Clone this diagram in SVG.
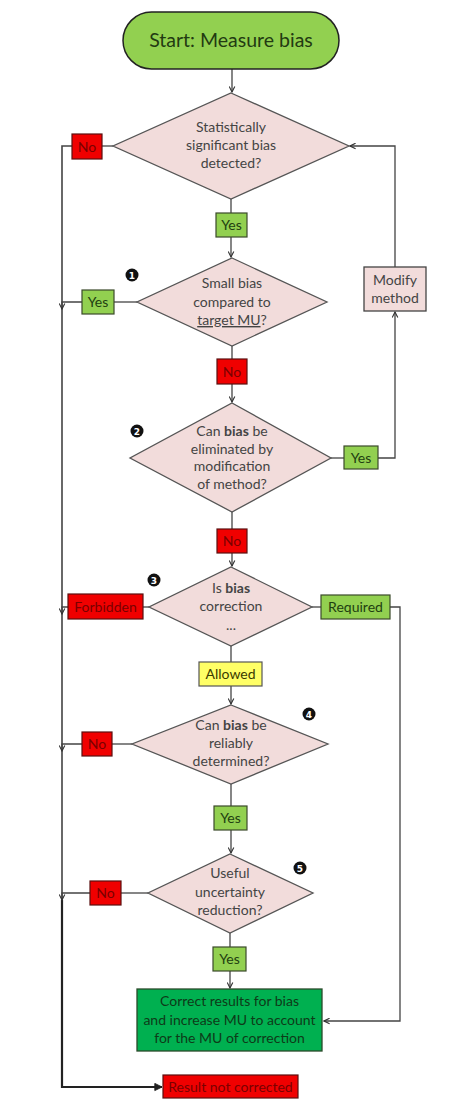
<svg xmlns="http://www.w3.org/2000/svg" width="449" height="1116" viewBox="0 0 449 1116">
<defs>
<marker id="arr" viewBox="0 0 10 10" refX="9" refY="5" markerWidth="7" markerHeight="7" orient="auto" markerUnits="userSpaceOnUse">
<path d="M1,1 L9,5 L1,9" fill="none" stroke="#333" stroke-width="1.6"/>
</marker>
<marker id="arrB" viewBox="0 0 10 10" refX="9" refY="5" markerWidth="9" markerHeight="9" orient="auto" markerUnits="userSpaceOnUse">
<path d="M1,1 L9,5 L1,9 Z" fill="#222" stroke="#222" stroke-width="1"/>
</marker>
</defs>
<style>
.dia{fill:#f2dcdb;stroke:#555;stroke-width:1.3}
.t{font-family:Lato,"Open Sans","Liberation Sans",sans-serif;text-anchor:middle}
.dt{font-size:14px;fill:#444}
.red{fill:#f00000;stroke:#5a1010;stroke-width:1.2}
.rt{font-size:14px;fill:#7a0000}
.grn{fill:#92d050;stroke:#3b4a2a;stroke-width:1.2}
.gt{font-size:14px;fill:#1f4010}
.yel{fill:#ffff66;stroke:#555;stroke-width:1.2}
.c{fill:none;stroke:#444;stroke-width:1.3}
.bul{fill:#111}
.bt{font-family:"DejaVu Sans",sans-serif;font-size:9px;font-weight:bold;fill:#fff;text-anchor:middle}
</style>
<rect width="449" height="1116" fill="#fff"/>

<g id="connectors">
<path class="c" d="M232,69 V92" marker-end="url(#arr)"/>
<path class="c" d="M113,146 H102"/>
<path class="c" d="M72,146 H62 V900" style="stroke-width:1.6"/>
<path d="M62,900 V1087 H162" fill="none" stroke="#222" stroke-width="2.2" marker-end="url(#arrB)"/>
<path class="c" d="M231,199 V213"/>
<path class="c" d="M231,237 V257" marker-end="url(#arr)"/>
<path class="c" d="M137,302 H114"/>
<path class="c" d="M82,302 H62 V309" marker-end="url(#arr)"/>
<path class="c" d="M232,346 V359"/>
<path class="c" d="M232,384 V402" marker-end="url(#arr)"/>
<path class="c" d="M331,458 H344"/>
<path class="c" d="M378,458 H395 V312" marker-end="url(#arr)"/>
<path class="c" d="M395,267 V146 H350" marker-end="url(#arr)"/>
<path class="c" d="M232,512 V529"/>
<path class="c" d="M232,553 V566" marker-end="url(#arr)"/>
<path class="c" d="M149,607 H143"/>
<path class="c" d="M68,607 H62 V614" marker-end="url(#arr)"/>
<path class="c" d="M312,607 H321"/>
<path class="c" d="M390,607 H400 V1021 H324" marker-end="url(#arr)"/>
<path class="c" d="M231,646 V662"/>
<path class="c" d="M231,686 V704" marker-end="url(#arr)"/>
<path class="c" d="M132,744 H112"/>
<path class="c" d="M82,744 H62 V751" marker-end="url(#arr)"/>
<path class="c" d="M231,784 V806"/>
<path class="c" d="M231,830 V853" marker-end="url(#arr)"/>
<path class="c" d="M148,893 H121"/>
<path class="c" d="M90,893 H62 V900" marker-end="url(#arr)"/>
<path class="c" d="M230,933 V947"/>
<path class="c" d="M230,971 V988" marker-end="url(#arr)"/>
</g>

<g id="start">
<rect x="123" y="12" width="216" height="57" rx="28.5" fill="#92d050" stroke="#222" stroke-width="1.5"/>
<text class="t" x="231" y="47" font-size="19.5" fill="#233a12">Start: Measure bias</text>
</g>

<g id="d1">
<polygon class="dia" points="231,93 349,146 231,199 113,146"/>
<text class="t dt" x="231" y="132">Statistically</text>
<text class="t dt" x="231" y="150">significant bias</text>
<text class="t dt" x="231" y="168">detected?</text>
</g>
<g id="d1-no"><rect class="red" x="72" y="134" width="30" height="25"/><text class="t rt" x="87" y="151.5">No</text></g>
<g id="d1-yes"><rect class="grn" x="216" y="213" width="31" height="24"/><text class="t gt" x="231.5" y="230">Yes</text></g>

<g id="d2">
<polygon class="dia" points="232,258 327,302 232,346 137,302"/>
<text class="t dt" x="232" y="288">Small bias</text>
<text class="t dt" x="232" y="307">compared to</text>
<text class="t dt" x="232" y="325"><tspan text-decoration="underline">target MU</tspan>?</text>
</g>
<g id="b1"><circle class="bul" cx="132" cy="275" r="6.5"/><text class="bt" x="132" y="278.5">1</text></g>
<g id="d2-yes"><rect class="grn" x="82" y="290" width="32" height="24"/><text class="t gt" x="98" y="307">Yes</text></g>
<g id="d2-no"><rect class="red" x="217" y="359" width="30" height="25"/><text class="t rt" x="232" y="376.5">No</text></g>

<g id="modify">
<rect x="364" y="267" width="62" height="44" fill="#f2dcdb" stroke="#444" stroke-width="1.3"/>
<text class="t dt" x="395" y="285">Modify</text>
<text class="t dt" x="395" y="303">method</text>
</g>

<g id="d3">
<polygon class="dia" points="232,403 331,458 232,512 130,458"/>
<text class="t dt" x="232" y="436">Can <tspan font-weight="bold">bias</tspan> be</text>
<text class="t dt" x="232" y="454">eliminated by</text>
<text class="t dt" x="232" y="471">modification</text>
<text class="t dt" x="232" y="489">of method?</text>
</g>
<g id="b2"><circle class="bul" cx="137" cy="431" r="6.5"/><text class="bt" x="137" y="434.5">2</text></g>
<g id="d3-yes"><rect class="grn" x="344" y="446" width="34" height="23"/><text class="t gt" x="361" y="462.5">Yes</text></g>
<g id="d3-no"><rect class="red" x="217" y="529" width="30" height="24"/><text class="t rt" x="232" y="546">No</text></g>

<g id="d4">
<polygon class="dia" points="231,567 312,607 231,646 149,607"/>
<text class="t dt" x="231" y="593">Is <tspan font-weight="bold">bias</tspan></text>
<text class="t dt" x="231" y="611">correction</text>
<text class="t dt" x="231" y="630" font-size="10">...</text>
</g>
<g id="b3"><circle class="bul" cx="154" cy="580" r="6.5"/><text class="bt" x="154" y="583.5">3</text></g>
<g id="forbidden"><rect class="red" x="68" y="594" width="75" height="25"/><text class="t rt" x="105.5" y="611.5" font-size="14.5">Forbidden</text></g>
<g id="required"><rect class="grn" x="321" y="595" width="69" height="24"/><text class="t gt" x="355.5" y="612">Required</text></g>
<g id="allowed"><rect class="yel" x="199" y="662" width="63" height="24"/><text class="t" x="230.5" y="679" font-size="14" fill="#3a3a00">Allowed</text></g>

<g id="d5">
<polygon class="dia" points="231,705 328,744 231,784 132,744"/>
<text class="t dt" x="231" y="730">Can <tspan font-weight="bold">bias</tspan> be</text>
<text class="t dt" x="231" y="748">reliably</text>
<text class="t dt" x="231" y="766">determined?</text>
</g>
<g id="b4"><circle class="bul" cx="309" cy="714" r="6.5"/><text class="bt" x="309" y="717.5">4</text></g>
<g id="d5-no"><rect class="red" x="82" y="732" width="30" height="24"/><text class="t rt" x="97" y="749">No</text></g>
<g id="d5-yes"><rect class="grn" x="214" y="806" width="33" height="24"/><text class="t gt" x="230.5" y="823">Yes</text></g>

<g id="d6">
<polygon class="dia" points="230,854 313,893 230,933 148,893"/>
<text class="t dt" x="230" y="878">Useful</text>
<text class="t dt" x="230" y="897">uncertainty</text>
<text class="t dt" x="230" y="915">reduction?</text>
</g>
<g id="b5"><circle class="bul" cx="300" cy="868" r="6.5"/><text class="bt" x="300" y="871.5">5</text></g>
<g id="d6-no"><rect class="red" x="90" y="881" width="31" height="24"/><text class="t rt" x="105.5" y="898">No</text></g>
<g id="d6-yes"><rect class="grn" x="213" y="947" width="33" height="24"/><text class="t gt" x="229.5" y="964">Yes</text></g>

<g id="correct">
<rect x="137" y="989" width="185" height="62" fill="#00b050" stroke="#2a4a2a" stroke-width="1.3"/>
<text class="t" x="229.5" y="1006" font-size="14" fill="#0e3a18">Correct results for bias</text>
<text class="t" x="229.5" y="1025" font-size="14" fill="#0e3a18">and increase MU to account</text>
<text class="t" x="229.5" y="1043" font-size="14" fill="#0e3a18">for the MU of correction</text>
</g>

<g id="notcorrected">
<rect class="red" x="163" y="1075" width="135" height="23"/>
<text class="t rt" x="230.5" y="1091.5">Result not corrected</text>
</g>
</svg>
